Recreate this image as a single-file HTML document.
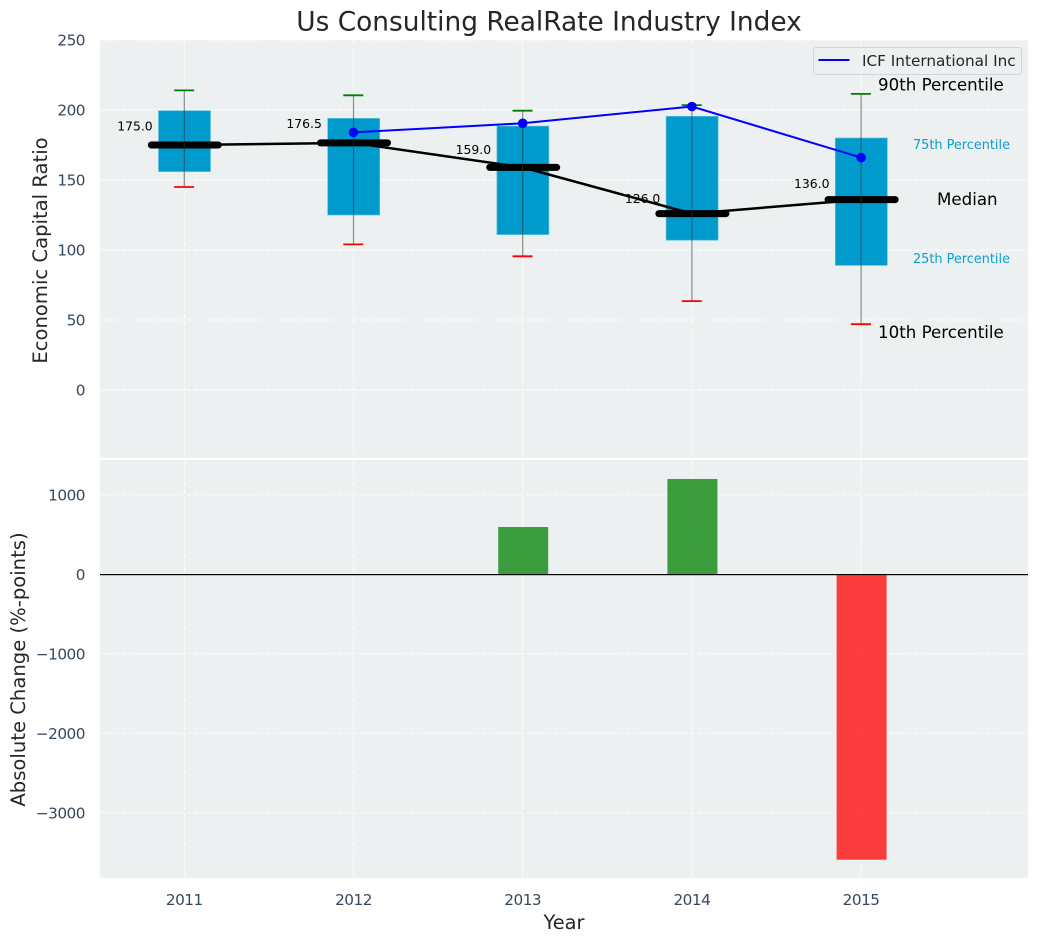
<!DOCTYPE html>
<html lang="en">
<head>
<meta charset="utf-8">
<title>Us Consulting RealRate Industry Index</title>
<style>
html,body{margin:0;padding:0;background:#fff;width:1039px;height:942px;overflow:hidden}
svg{display:block}
text{font-family:"DejaVu Sans","Liberation Sans",sans-serif}
#ticks text{letter-spacing:-0.5px}
</style>
</head>
<body>
<svg id="chart" xmlns="http://www.w3.org/2000/svg" width="1039" height="942" viewBox="0 0 1039 942">
  <text x="549" y="30.5" font-size="26.4" fill="#262626" text-anchor="middle">Us Consulting RealRate Industry Index</text>
  <rect x="100" y="40" width="928" height="418" fill="#ecf0f1"/>
  <rect x="100" y="460" width="928" height="418" fill="#ecf0f1"/>
  <g id="grid"></g>
  <line x1="100" x2="1028" y1="575.5" y2="575.5" stroke="#b9bdbf" stroke-width="1"/>
  <g id="bars"></g>
  <g id="boxes"></g>
  <g id="medians"></g>
  <g id="whiskers"></g>
  <g id="icf"></g>
  <g id="ticks"></g>
  <line x1="100" x2="1028" y1="574.5" y2="574.5" stroke="#000" stroke-width="1"/>
  <text transform="translate(47,250.5) rotate(-90)" font-size="19.6" fill="#262626" text-anchor="middle">Economic Capital Ratio</text>
  <text transform="translate(25,669.5) rotate(-90)" font-size="19.6" fill="#262626" text-anchor="middle">Absolute Change (%-points)</text>
  <text x="564" y="929" font-size="19.4" fill="#262626" text-anchor="middle">Year</text>
  <text x="878" y="90.5" font-size="16.67" fill="#000">90th Percentile</text>
  <text x="913" y="149" font-size="12.85" fill="#0aa0cf">75th Percentile</text>
  <text x="937" y="205" font-size="16.67" fill="#000">Median</text>
  <text x="913" y="263" font-size="12.85" fill="#0aa0cf">25th Percentile</text>
  <text x="878" y="338" font-size="16.67" fill="#000">10th Percentile</text>
  <g>
    <rect x="813.5" y="47.5" width="208" height="27" rx="2.5" fill="#ecf0f1" fill-opacity="0.8" stroke="#d3d5d8"/>
    <line x1="818.5" x2="849.5" y1="60" y2="60" stroke="#0000ff" stroke-width="2"/>
    <text x="862" y="66" font-size="15.28" fill="#262626">ICF International Inc</text>
  </g>
</svg>
<script>
const years = [2011, 2012, 2013, 2014, 2015];
const p10 = [145, 104, 95.5, 63.5, 47];
const p25 = [156, 125, 111, 107, 89];
const medianValues = [175, 176.5, 159, 126, 136];
const p75 = [199.5, 194, 188.5, 195.5, 180];
const p90 = [214, 210.5, 199.5, 203.5, 211.5];
const icfValues = [null, 184, 190.5, 202.5, 166];
const changeValues = [0, 0, 595, 1199, -3590];
const topTicks = [0, 50, 100, 150, 200, 250];
const bottomTicks = [-3000, -2000, -1000, 0, 1000];

const NS = 'http://www.w3.org/2000/svg';
const xScale = function (year) { return 184.3 + (year - 2011) * 169.2; };
const yTop = function (v) { return 390 - 1.4 * v; };
const yBottom = function (v) { return 574.3 - 0.0795 * v; };

function make(parentId, tag, attrs, content) {
  const el = document.createElementNS(NS, tag);
  Object.keys(attrs).forEach(function (k) { el.setAttribute(k, attrs[k]); });
  if (content !== undefined) el.textContent = content;
  document.getElementById(parentId).appendChild(el);
  return el;
}
function fmt(v) { return String(v).replace('-', '\u2212'); }

const gridStyle = { stroke: '#ffffff', 'stroke-width': 1, 'stroke-dasharray': '5 2.2', 'stroke-opacity': 0.85 };
topTicks.forEach(function (t) {
  const g = make('grid', 'line', Object.assign({ x1: 100, x2: 1028, y1: yTop(t), y2: yTop(t) }, gridStyle));
  
  
  const lab = make('ticks', 'text', { x: 85, y: yTop(t) + 5.5, 'font-size': 15.28, fill: '#34495e', 'text-anchor': 'end' }, fmt(t));
  
  
});
bottomTicks.forEach(function (t) {
  const g = make('grid', 'line', Object.assign({ x1: 100, x2: 1028, y1: yBottom(t), y2: yBottom(t) }, gridStyle));
  
  
  const lab = make('ticks', 'text', { x: 85, y: yBottom(t) + 5.5, 'font-size': 15.28, fill: '#34495e', 'text-anchor': 'end' }, fmt(t));
  
  
});

years.forEach(function (year, i) {
  const x = xScale(year);

  const g1 = make('grid', 'line', Object.assign({ x1: x, x2: x, y1: 40, y2: 458 }, gridStyle));
  
  
  const g2 = make('grid', 'line', Object.assign({ x1: x, x2: x, y1: 460, y2: 878 }, gridStyle));
  
  

  const xt = make('ticks', 'text', { x: x, y: 905, 'font-size': 15.28, fill: '#34495e', 'text-anchor': 'middle' }, String(year));
  
  

  const box = make('boxes', 'rect', { x: x - 25.8, width: 52, y: yTop(p75[i]), height: yTop(p25[i]) - yTop(p75[i]), fill: '#009acd', stroke: '#5fbfdd', 'stroke-width': 0.7 });
  
  

  const w = make('whiskers', 'line', { x1: x, x2: x, y1: yTop(p90[i]), y2: yTop(p10[i]), stroke: '#333333', 'stroke-opacity': 0.55, 'stroke-width': 1.2 });
  
  
  const capHigh = make('whiskers', 'line', { x1: x - 10.2, x2: x + 9.8, y1: yTop(p90[i]), y2: yTop(p90[i]), stroke: '#008000', 'stroke-width': 1.8 });
  
  
  const capLow = make('whiskers', 'line', { x1: x - 10.2, x2: x + 9.8, y1: yTop(p10[i]), y2: yTop(p10[i]), stroke: '#ff0000', 'stroke-width': 1.8 });
  
  

  const med = make('medians', 'line', { x1: x - 33, x2: x + 34, y1: yTop(medianValues[i]), y2: yTop(medianValues[i]), stroke: '#000', 'stroke-width': 7, 'stroke-linecap': 'round' });
  
  
  const medLab = make('medians', 'text', { x: x - 31.6, y: yTop(medianValues[i] * 1.06), 'font-size': 12.4, fill: '#000', 'text-anchor': 'end' }, medianValues[i].toFixed(1));
  
  

  const v = changeValues[i];
  if (v !== 0) {
    const bar = make('bars', 'rect', { x: x - 24.5, width: 50, y: Math.min(yBottom(v), yBottom(0)), height: Math.abs(yBottom(v) - yBottom(0)), fill: v > 0 ? '#008000' : '#ff0000', 'fill-opacity': 0.75 });
    
    
  }
});

const medPath = make('medians', 'polyline', { points: years.map(function (y, i) { return xScale(y) + ',' + yTop(medianValues[i]); }).join(' '), fill: 'none', stroke: '#000', 'stroke-width': 2.5 });



const icfPts = years.map(function (y, i) { return icfValues[i] === null ? null : [xScale(y), yTop(icfValues[i])]; }).filter(Boolean);
const icfLine = make('icf', 'polyline', { points: icfPts.map(function (p) { return p.join(','); }).join(' '), fill: 'none', stroke: '#0000ff', 'stroke-width': 2 });


icfPts.forEach(function (p) {
  const dot = make('icf', 'circle', { cx: p[0], cy: p[1], r: 4.8, fill: '#0000ff' });
  
  
});
</script>
</body>
</html>
